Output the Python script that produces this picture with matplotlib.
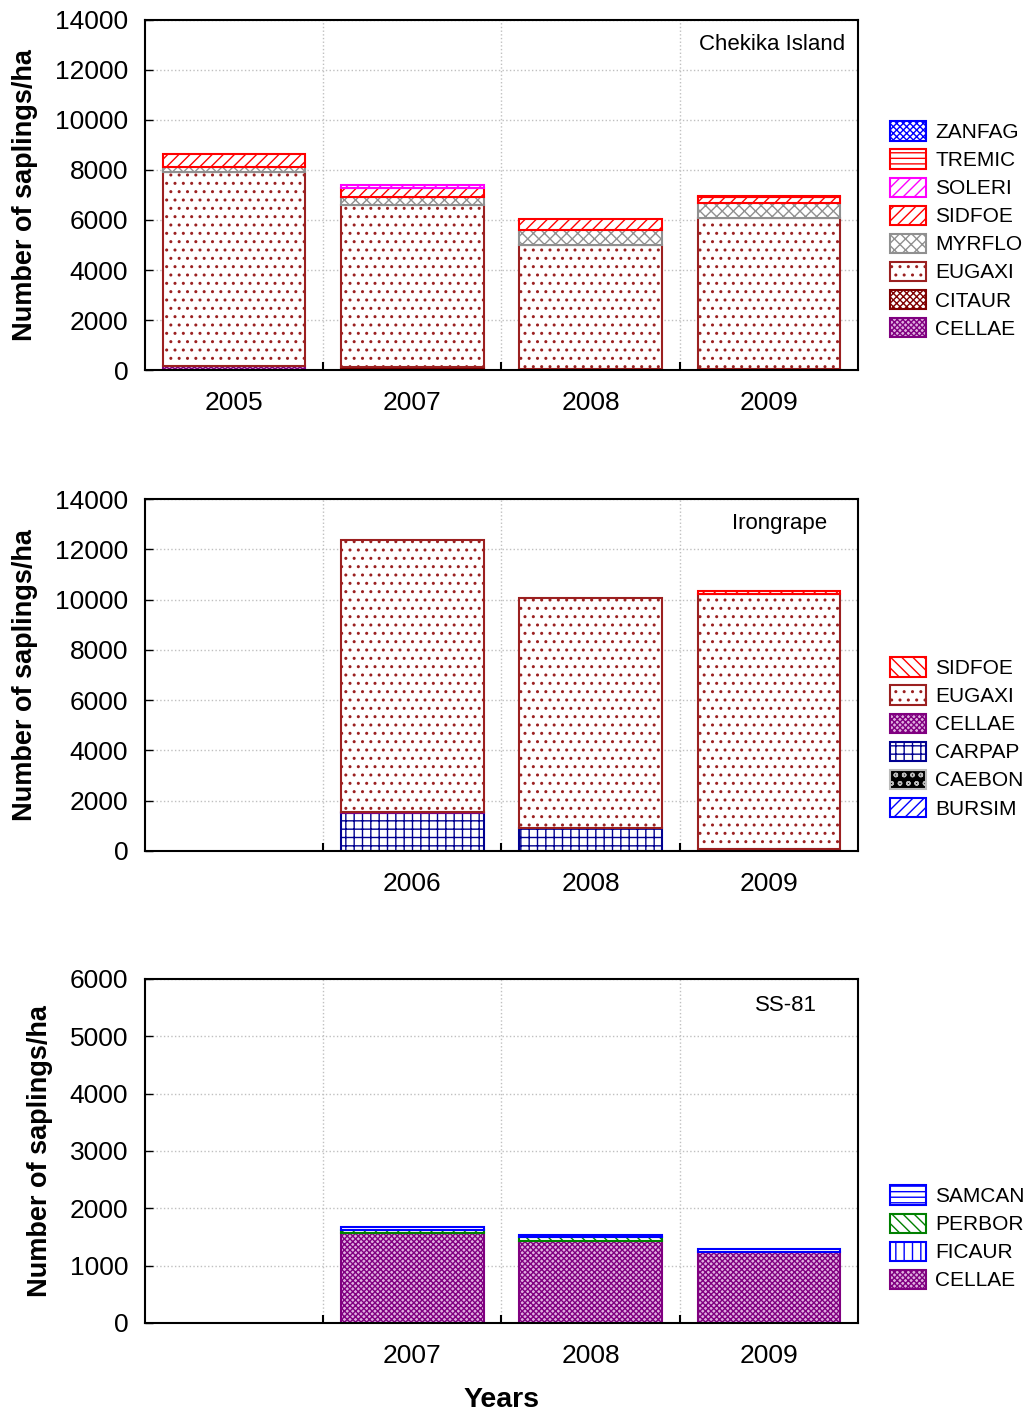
import matplotlib.pyplot as plt
import matplotlib.patches as mpatches
import numpy as np

plt.rcParams['font.family'] = ['Liberation Sans', 'DejaVu Sans']
plt.rcParams['font.size'] = 19
plt.rcParams['hatch.linewidth'] = 1.0

# categories (first slot empty in lower panels)
years1 = ['2005', '2007', '2008', '2009']
years2 = ['', '2006', '2008', '2009']
years3 = ['', '2007', '2008', '2009']

# Chekika Island, stacked bottom -> top
p1_CELLAE = [150, 40, 40, 40]
p1_CITAUR = [0, 100, 0, 0]
p1_EUGAXI = [7780, 6460, 4950, 6030]
p1_MYRFLO = [200, 300, 610, 600]
p1_SIDFOE = [510, 380, 430, 240]
p1_SOLERI = [0, 130, 0, 0]
p1_TREMIC = [0, 0, 0, 40]
p1_ZANFAG = [0, 0, 0, 0]

# Irongrape
p2_BURSIM = [0, 0, 0, 0]
p2_CAEBON = [0, 0, 0, 60]
p2_CARPAP = [0, 1500, 930, 0]
p2_CELLAE = [0, 40, 0, 0]
p2_EUGAXI = [0, 10840, 9130, 10170]
p2_SIDFOE = [0, 0, 0, 120]

# SS-81
p3_CELLAE = [0, 1570, 1435, 1230]
p3_FICAUR = [0, 0, 0, 0]
p3_PERBOR = [0, 55, 60, 0]
p3_SAMCAN = [0, 40, 40, 55]

styles = {
    'ZANFAG': dict(facecolor='white', edgecolor='blue', hatch='xxxxx'),
    'TREMIC': dict(facecolor='white', edgecolor='red', hatch='---'),
    'SOLERI': dict(facecolor='white', edgecolor='magenta', hatch='///'),
    'SIDFOE': dict(facecolor='white', edgecolor='red', hatch='///'),
    'MYRFLO': dict(facecolor='white', edgecolor='#909090', hatch='xxx'),
    'EUGAXI': dict(facecolor='white', edgecolor='#9b2020', hatch='..'),
    'CITAUR': dict(facecolor='white', edgecolor='#800000', hatch='xxxxx'),
    'CELLAE': dict(facecolor='#e0b0e0', edgecolor='#800080', hatch='xxxxxx'),
    'CARPAP': dict(facecolor='white', edgecolor='#000090', hatch='++'),
    'CAEBON': dict(facecolor='black', edgecolor='#bbbbbb', hatch='oo'),
    'BURSIM': dict(facecolor='white', edgecolor='blue', hatch='///'),
    'SAMCAN': dict(facecolor='white', edgecolor='blue', hatch='---'),
    'PERBOR': dict(facecolor='white', edgecolor='#008000', hatch='\\\\\\'),
    'FICAUR': dict(facecolor='white', edgecolor='blue', hatch='||'),
}
sidfoe2 = dict(facecolor='white', edgecolor='red', hatch='\\\\\\')

fig = plt.figure(figsize=(10.29, 14.14), dpi=100)
ax1 = fig.add_axes([0.1409, 0.7383, 0.6929, 0.2476])
ax2 = fig.add_axes([0.1409, 0.3982, 0.6929, 0.2489])
ax3 = fig.add_axes([0.1409, 0.0644, 0.6929, 0.2433])


def stack(ax, series, over=None):
    x = np.arange(4)
    bottom = np.zeros(4)
    handles = []
    for name, vals in series:
        st = styles[name]
        if over and name in over:
            st = over[name]
        lw = [1.5 if v > 0 else 0 for v in vals]
        ax.bar(x, vals, 0.8, bottom=bottom, linewidth=lw, **st)
        bottom += np.array(vals)
        handles.append(mpatches.Patch(label=name, linewidth=1.5, **st))
    return handles


def style(ax, handles, labels, ymax, ystep, title, tx, ty, ha, leg_y):
    ax.set_xlim(-0.5, 3.5)
    ax.set_ylim(0, ymax)
    ax.set_yticks(np.arange(0, ymax + 1, ystep))
    ax.set_xticks(np.arange(4))
    ax.set_xticklabels(labels)
    ax.set_xticks([0.5, 1.5, 2.5], minor=True)
    ax.tick_params(axis='x', which='major', length=0, pad=15)
    ax.tick_params(axis='x', which='minor', direction='in', length=6, width=1.5)
    ax.tick_params(axis='y', direction='in', length=6, width=1, pad=12)
    ax.grid(True, axis='y', which='major', linestyle=':', color='#c0c0c0', linewidth=1)
    ax.grid(True, axis='x', which='minor', linestyle=':', color='#c0c0c0', linewidth=1)
    ax.set_axisbelow(True)
    for s in ax.spines.values():
        s.set_linewidth(1.5)
    ax.set_ylabel('Number of saplings/ha', fontweight='bold', fontsize=19.5, labelpad=12)
    ax.text(tx, ty, title, transform=ax.transAxes, ha=ha, va='center', fontsize=16)
    ax.legend(handles=handles[::-1], loc='center left', bbox_to_anchor=(1.045, leg_y),
              frameon=False, fontsize=15, borderaxespad=0, borderpad=0,
              handlelength=1.73, handleheight=1.05, handletextpad=0.43, labelspacing=0.35)


h1 = stack(ax1, [('CELLAE', p1_CELLAE), ('CITAUR', p1_CITAUR), ('EUGAXI', p1_EUGAXI),
                 ('MYRFLO', p1_MYRFLO), ('SIDFOE', p1_SIDFOE), ('SOLERI', p1_SOLERI),
                 ('TREMIC', p1_TREMIC), ('ZANFAG', p1_ZANFAG)])
style(ax1, h1, years1, 14000, 2000, 'Chekika Island', 0.982, 0.931, 'right', 0.40)

h2 = stack(ax2, [('BURSIM', p2_BURSIM), ('CAEBON', p2_CAEBON), ('CARPAP', p2_CARPAP),
                 ('CELLAE', p2_CELLAE), ('EUGAXI', p2_EUGAXI), ('SIDFOE', p2_SIDFOE)],
           over={'SIDFOE': sidfoe2})
style(ax2, h2, years2, 14000, 2000, 'Irongrape', 0.89, 0.929, 'center', 0.321)

h3 = stack(ax3, [('CELLAE', p3_CELLAE), ('FICAUR', p3_FICAUR), ('PERBOR', p3_PERBOR),
                 ('SAMCAN', p3_SAMCAN)])
style(ax3, h3, years3, 6000, 1000, 'SS-81', 0.899, 0.924, 'center', 0.247)
ax3.set_xlabel('Years', fontweight='bold', fontsize=20.5, labelpad=14)

fig.savefig('out.png', dpi=100)
